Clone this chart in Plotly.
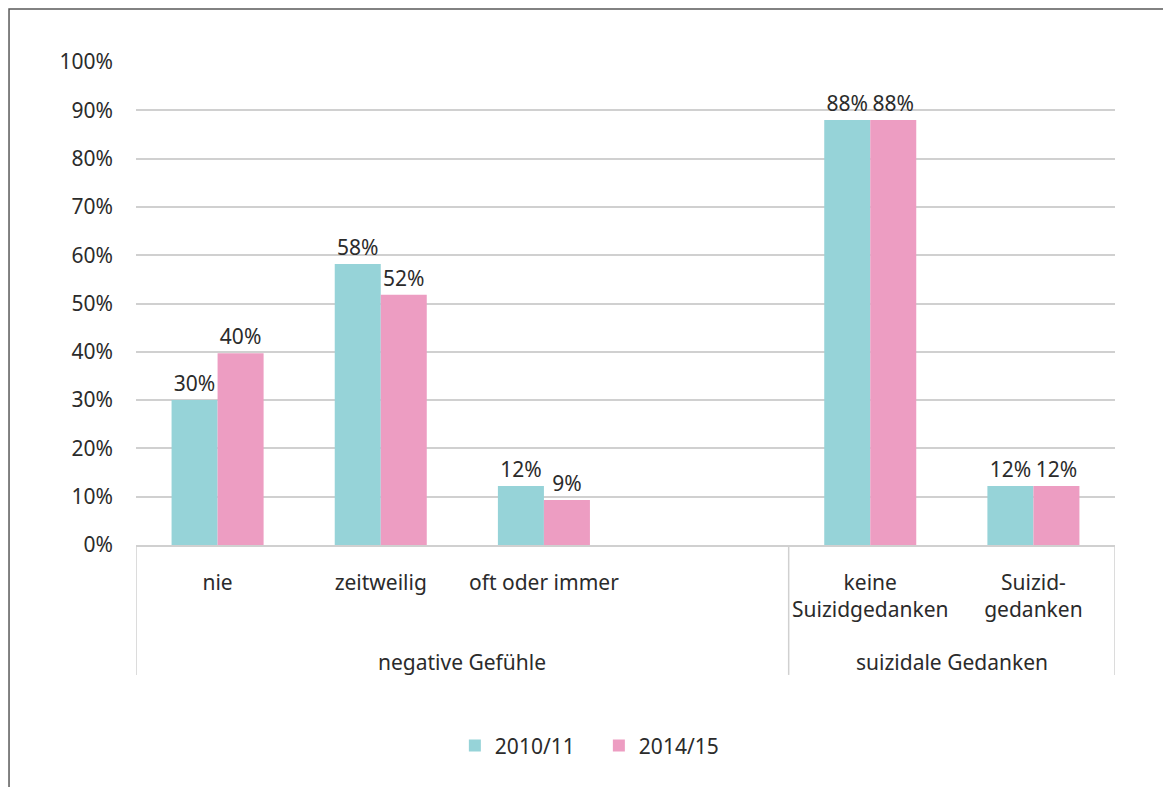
"""Grouped bar chart: negative Gefühle / suizidale Gedanken, 2010/11 vs 2014/15."""

import plotly.graph_objects as go

FONT = "Noto Sans"
TEXT_COLOR = "#2b2b2b"
GRID_COLOR = "#d0d0d0"
FONT_SIZE = 21

categories = [
    "nie",
    "zeitweilig",
    "oft oder immer",
    " ",
    "keine<br>Suizidgedanken",
    "Suizid-<br>gedanken",
]
group_names = ["negative Gefühle", "suizidale Gedanken"]
group_spans = [(0, 3), (4, 5)]  # first / last category index of each group
series_names = ["2010/11", "2014/15"]
values_2010 = [30.0, 58.2, 12.2, None, 88.0, 12.2]
values_2014 = [39.7, 51.8, 9.3, None, 88.0, 12.2]
series_colors = ["#96d3d8", "#ed9dc2"]

y_ticks = [0, 10, 20, 30, 40, 50, 60, 70, 80, 90, 100]
y_tick_labels = [f"{t}%" for t in y_ticks]

fig = go.Figure()
for name, vals, color in zip(series_names, [values_2010, values_2014], series_colors):
    fig.add_trace(
        go.Bar(
            x=categories,
            y=vals,
            name=name,
            marker=dict(color=color, line=dict(width=0)),
            texttemplate="%{y:.0f}%",
            textposition="outside",
            textfont=dict(family=FONT, size=FONT_SIZE, color=TEXT_COLOR),
            cliponaxis=False,
        )
    )

# second axis level: group labels and the dividers between the groups
divider_bottom = -0.269
for name, (first, last) in zip(group_names, group_spans):
    fig.add_annotation(
        x=(first + last) / 2,
        xref="x",
        y=-0.242,
        yref="paper",
        yanchor="middle",
        text=name,
        showarrow=False,
        font=dict(family=FONT, size=FONT_SIZE, color=TEXT_COLOR),
    )
edges = [group_spans[0][0] - 0.5] + [last + 0.5 for _, last in group_spans]
for edge in edges:
    fig.add_shape(
        type="line",
        xref="x",
        yref="paper",
        x0=edge,
        x1=edge,
        y0=0,
        y1=divider_bottom,
        line=dict(color=GRID_COLOR, width=1.5),
    )

# outer frame around the whole chart (page body adds an 8px offset)
fig.add_shape(
    type="rect",
    xref="paper",
    yref="paper",
    x0=-0.1297,
    x1=1.0511,
    y0=-0.56,
    y1=1.1097,
    line=dict(color="#595959", width=1.5),
    layer="below",
)

fig.update_layout(
    width=1163,
    height=779,
    margin=dict(l=128, r=56, t=54, b=242),
    paper_bgcolor="white",
    plot_bgcolor="white",
    font=dict(family=FONT, size=FONT_SIZE, color=TEXT_COLOR),
    barmode="group",
    bargap=0.436,
    bargroupgap=0,
    showlegend=True,
    legend=dict(
        orientation="h",
        x=0.3257,
        xanchor="left",
        y=-0.416,
        yanchor="middle",
        font=dict(family=FONT, size=FONT_SIZE, color=TEXT_COLOR),
        entrywidth=99,
        entrywidthmode="pixels",
    ),
    xaxis=dict(
        type="category",
        range=[-0.5, 5.5],
        showline=True,
        linecolor=GRID_COLOR,
        linewidth=1.5,
        showgrid=False,
        ticks="",
        ticklabelstandoff=18,
        tickangle=0,
        tickfont=dict(family=FONT, size=FONT_SIZE, color=TEXT_COLOR),
    ),
    yaxis=dict(
        range=[0, 100],
        tickvals=y_ticks,
        ticktext=y_tick_labels,
        showgrid=True,
        gridcolor=GRID_COLOR,
        gridwidth=1.5,
        zeroline=False,
        showline=False,
        ticks="",
        ticklabelstandoff=22,
        tickfont=dict(family=FONT, size=FONT_SIZE, color=TEXT_COLOR),
    ),
)

fig.write_html("out.html")
